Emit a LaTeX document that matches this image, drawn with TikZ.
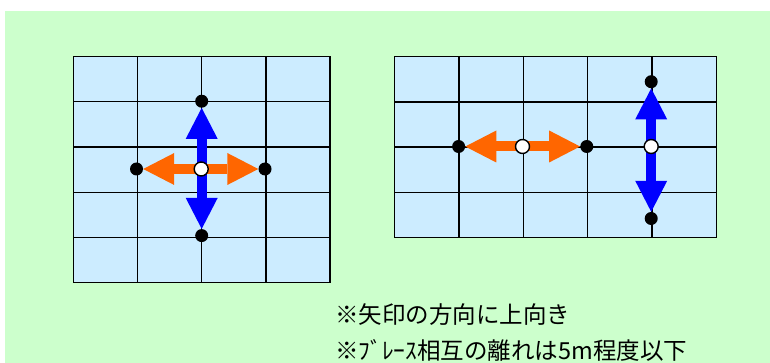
\documentclass[tikz,border=0pt]{standalone}
\usepackage{fontspec}
\newfontfamily\jp{Noto Sans CJK JP}
\usetikzlibrary{arrows.meta}
\definecolor{bg}{HTML}{CCFFCC}
\definecolor{cell}{HTML}{CCECFF}
\definecolor{bluearr}{HTML}{0000FF}
\definecolor{orangearr}{HTML}{FF6600}
\tikzset{
  gridline/.style={line width=1.1pt, draw=black},
  dot/.style={circle, fill=black, inner sep=0pt, minimum size=13pt},
  hollow/.style={circle, draw=black, line width=1.4pt, fill=white, inner sep=0pt, minimum size=14pt},
  bigarrow/.style={line width=10pt,
    {Triangle[width=32pt 0,length=31pt 0 0,line width=0pt]}-{Triangle[width=32pt 0,length=31pt 0 0,line width=0pt]}},
  note/.style={anchor=west, inner sep=0pt, font=\jp\fontsize{23.5}{28}\selectfont}
}
\begin{document}
\begin{tikzpicture}[x=1pt,y=-1pt]
\useasboundingbox (0,0) rectangle (770,363);
\fill[bg] (5,11) rectangle (770,363);
% left grid
\fill[cell] (73.3,56.7) rectangle (330,282.5);
\foreach \x in {137.3,201.7,266} \draw[gridline] (\x,56.7) -- (\x,282.5);
\foreach \y in {101.9,147,192.2,237.4} \draw[gridline] (73.3,\y) -- (330,\y);
\draw[gridline] (73.3,56.7) rectangle (330,282.5);
% right grid
\fill[cell] (394.3,56.7) rectangle (716.4,237.5);
\foreach \x in {459,523.3,587.7,652} \draw[gridline] (\x,56.7) -- (\x,237.5);
\foreach \y in {102,147,192.3} \draw[gridline] (394.3,\y) -- (716.4,\y);
\draw[gridline] (394.3,56.7) rectangle (716.4,237.5);
% left cross
\node[dot] (Ltop) at (201.7,101.2) {};
\node[dot] (Lbot) at (201.7,235.6) {};
\node[dot] (Lleft) at (136.5,169) {};
\node[dot] (Lright) at (265,169) {};
\draw[bigarrow, bluearr] (Ltop) -- (Lbot);
\draw[bigarrow, orangearr] (Lleft) -- (Lright);
\node[hollow] (Lc) at (201.2,169) {};
% right: orange horizontal
\node[dot] (Rleft) at (458.6,146.5) {};
\node[dot] (Rright) at (586.8,146.5) {};
\draw[bigarrow, orangearr] (Rleft) -- (Rright);
\node[hollow] (Rc1) at (522.5,146.5) {};
% right: blue vertical
\node[dot] (Rtop) at (651.2,81.7) {};
\node[dot] (Rbot) at (651.2,218.5) {};
\draw[bigarrow, bluearr] (Rtop) -- (Rbot);
\node[hollow] (Rc2) at (651.2,146.5) {};
% notes
\node[note] (t1) at (335,315) {※矢印の方向に上向き};
\node[note] (t2) at (335,350) {※ﾌﾞﾚｰｽ相互の離れは5m程度以下};
\end{tikzpicture}
\end{document}
